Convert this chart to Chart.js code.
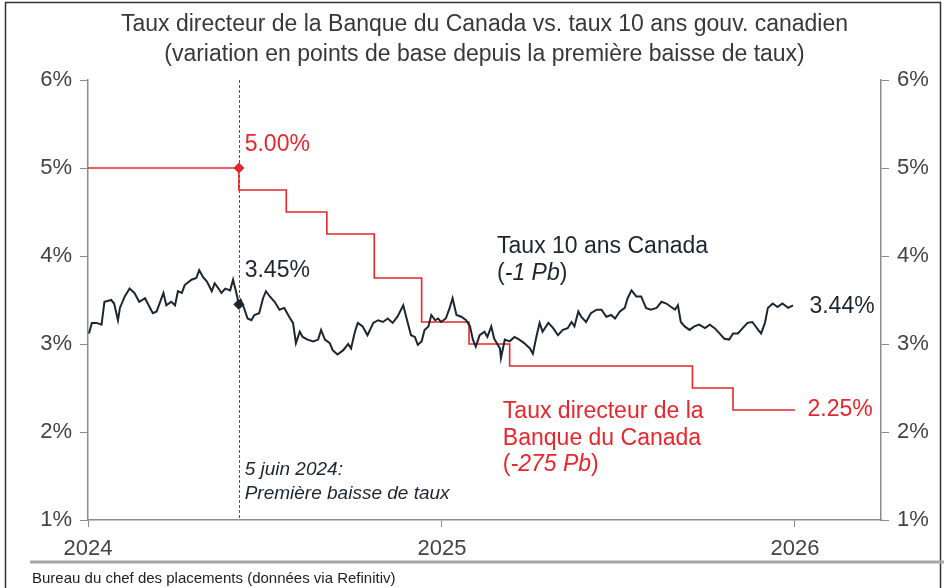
<!DOCTYPE html>
<html>
<head>
<meta charset="utf-8">
<script src="https://cdn.jsdelivr.net/npm/chart.js@4.4.1/dist/chart.umd.min.js"></script>
<style>
    html, body { margin: 0; padding: 0; background: #fff; }
    #wrap { width: 944px; height: 588px; position: relative; }
</style>
</head>
<body>
<div id="wrap"><canvas id="rateChart"></canvas></div>
<script>

// ---- data ----

var tickYears = [2024, 2025, 2026];

// Bank of Canada policy rate, value in force from each date
var policyDates = ['2024-01-01', '2024-06-05', '2024-07-24', '2024-09-04', '2024-10-23', '2024-12-11',
    '2025-01-29', '2025-03-12', '2025-09-17', '2025-10-29', '2026-01-01'];
var policyRates = [5.00, 4.75, 4.50, 4.25, 3.75, 3.25, 3.00, 2.75, 2.50, 2.25, 2.25];

// Canada 10 year government yield
var bondDates = [
    '2024-01-02', '2024-01-05', '2024-01-10', '2024-01-15', '2024-01-18', '2024-01-25', '2024-01-28', '2024-02-01',
    '2024-02-03', '2024-02-08', '2024-02-13', '2024-02-18', '2024-02-23', '2024-02-29', '2024-03-08', '2024-03-12',
    '2024-03-19', '2024-03-22', '2024-03-27', '2024-03-31', '2024-04-03', '2024-04-07', '2024-04-10', '2024-04-17',
    '2024-04-22', '2024-04-25', '2024-04-29', '2024-05-03', '2024-05-08', '2024-05-11', '2024-05-15', '2024-05-18',
    '2024-05-22', '2024-05-27', '2024-05-30', '2024-06-02', '2024-06-05', '2024-06-07', '2024-06-10', '2024-06-14',
    '2024-06-18', '2024-06-21', '2024-06-26', '2024-06-30', '2024-07-03', '2024-07-07', '2024-07-12', '2024-07-17',
    '2024-07-22', '2024-07-27', '2024-07-31', '2024-08-03', '2024-08-07', '2024-08-10', '2024-08-15', '2024-08-21',
    '2024-08-26', '2024-08-29', '2024-09-02', '2024-09-07', '2024-09-10', '2024-09-15', '2024-09-21', '2024-09-26',
    '2024-09-29', '2024-10-03', '2024-10-06', '2024-10-11', '2024-10-16', '2024-10-22', '2024-10-27', '2024-11-01',
    '2024-11-06', '2024-11-11', '2024-11-16', '2024-11-22', '2024-11-25', '2024-11-30', '2024-12-04', '2024-12-07',
    '2024-12-11', '2024-12-14', '2024-12-18', '2024-12-21', '2024-12-25', '2024-12-28', '2024-12-31',
    '2025-01-05', '2025-01-09', '2025-01-12', '2025-01-16', '2025-01-21', '2025-01-26', '2025-01-30', '2025-02-02',
    '2025-02-05', '2025-02-09', '2025-02-14', '2025-02-17', '2025-02-21', '2025-02-24', '2025-03-02', '2025-03-03',
    '2025-03-07', '2025-03-12', '2025-03-17', '2025-03-22', '2025-03-27', '2025-04-02', '2025-04-05', '2025-04-09',
    '2025-04-12', '2025-04-15', '2025-04-21', '2025-04-26', '2025-05-01', '2025-05-06', '2025-05-11', '2025-05-15',
    '2025-05-18', '2025-05-22', '2025-05-25', '2025-05-30', '2025-06-04', '2025-06-10', '2025-06-15', '2025-06-20',
    '2025-06-25', '2025-06-29', '2025-07-04', '2025-07-09', '2025-07-12', '2025-07-16', '2025-07-21', '2025-07-26',
    '2025-07-31', '2025-08-05', '2025-08-11', '2025-08-16', '2025-08-21', '2025-08-26', '2025-08-30', '2025-09-02',
    '2025-09-05', '2025-09-09', '2025-09-14', '2025-09-19', '2025-09-24', '2025-09-30', '2025-10-05', '2025-10-10',
    '2025-10-15', '2025-10-20', '2025-10-25', '2025-10-29', '2025-11-03', '2025-11-08', '2025-11-13', '2025-11-18',
    '2025-11-24', '2025-11-27', '2025-12-01', '2025-12-04', '2025-12-09', '2025-12-14', '2025-12-19', '2025-12-25',
    '2025-12-30'
];
var bondYields = [
    3.12, 3.24, 3.24, 3.22, 3.48, 3.50, 3.46, 3.27,
    3.41, 3.54, 3.63, 3.58, 3.48, 3.52, 3.35, 3.37,
    3.58, 3.44, 3.48, 3.44, 3.60, 3.58, 3.67, 3.73,
    3.75, 3.84, 3.76, 3.71, 3.60, 3.69, 3.63, 3.58,
    3.63, 3.61, 3.73, 3.60, 3.45, 3.50, 3.42, 3.29,
    3.27, 3.33, 3.35, 3.52, 3.60, 3.54, 3.48, 3.39,
    3.41, 3.31, 3.24, 3.01, 3.14, 3.08, 3.05, 3.03,
    3.05, 3.16, 3.05, 3.01, 2.93, 2.88, 2.93, 3.00,
    2.95, 3.14, 3.24, 3.20, 3.10, 3.24, 3.27, 3.25,
    3.29, 3.24, 3.31, 3.44, 3.31, 3.10, 3.08, 2.99,
    3.03, 3.16, 3.20, 3.33, 3.27, 3.29, 3.25,
    3.29, 3.41, 3.52, 3.33, 3.31, 3.27, 3.20, 3.05,
    2.97, 3.10, 3.14, 3.08, 3.20, 3.06, 2.95, 2.84,
    3.05, 3.03, 3.08, 3.05, 3.01, 2.95, 2.89, 3.10,
    3.24, 3.14, 3.24, 3.18, 3.10, 3.16, 3.18, 3.25,
    3.20, 3.37, 3.31, 3.25, 3.35, 3.39, 3.39, 3.31,
    3.33, 3.29, 3.37, 3.41, 3.52, 3.61, 3.54, 3.54,
    3.41, 3.39, 3.41, 3.48, 3.46, 3.42, 3.39, 3.44,
    3.25, 3.20, 3.16, 3.20, 3.22, 3.18, 3.22, 3.18,
    3.12, 3.06, 3.05, 3.12, 3.12, 3.18, 3.24, 3.25,
    3.16, 3.12, 3.24, 3.41, 3.46, 3.42, 3.46, 3.41,
    3.44
];

// first rate cut, marked on both series
var cutDate = '2024-06-05';
var cutPolicy = 5.00;
var cutBond = 3.45;

var chartTitle = ['Taux directeur de la Banque du Canada vs. taux 10 ans gouv. canadien',
    '(variation en points de base depuis la première baisse de taux)'];
var sourceText = 'Bureau du chef des placements (données via Refinitiv)';

// ---- helpers / styles ----

var RED = '#e8262d';
var DARK = '#1c2631';
var AXIS = '#8c8c8c';
var FONT = '"Liberation Sans", Arial, sans-serif';

var START = Date.UTC(2024, 0, 1);
function toDay(s) {
    var p = s.split('-');
    return (Date.UTC(+p[0], +p[1] - 1, +p[2]) - START) / 86400000;
}

function toPoints(dates, values) {
    return dates.map(function (d, i) { return { x: toDay(d), y: values[i] }; });
}

// text notes placed in data coordinates (date, value)
var notes = [
    { at: ['2024-06-11', 5.27], color: RED, size: 23, parts: [['5.00%', false]] },
    { at: ['2024-06-11', 3.83], color: DARK, size: 23, parts: [['3.45%', false]] },
    { at: ['2025-02-27', 4.11], color: DARK, size: 23, parts: [['Taux 10 ans Canada', false]] },
    { at: ['2025-02-27', 3.80], color: DARK, size: 23, parts: [['(', false], ['-1 Pb', true], [')', false]] },
    { at: ['2026-01-16', 3.42], color: DARK, size: 23, parts: [['3.44%', false]] },
    { at: ['2025-03-05', 2.23], color: RED, size: 23, parts: [['Taux directeur de la', false]] },
    { at: ['2025-03-05', 1.93], color: RED, size: 23, parts: [['Banque du Canada', false]] },
    { at: ['2025-03-05', 1.63], color: RED, size: 23, parts: [['(', false], ['-275 Pb', true], [')', false]] },
    { at: ['2026-01-14', 2.25], color: RED, size: 23, parts: [['2.25%', false]] },
    { at: ['2024-06-11', 1.57], color: DARK, size: 19, parts: [['5 juin 2024:', true]] },
    { at: ['2024-06-11', 1.30], color: DARK, size: 19, parts: [['Première baisse de taux', true]] }
];

var decorPlugin = {
    id: 'decor',
    beforeDatasetsDraw: function (chart) {
        var ctx = chart.ctx;
        var area = chart.chartArea;
        var x = chart.scales.x.getPixelForValue(toDay(cutDate));
        ctx.save();
        ctx.strokeStyle = '#555';
        ctx.lineWidth = 1;
        ctx.setLineDash([3, 2]);
        ctx.beginPath();
        ctx.moveTo(Math.round(x) + 0.5, area.top);
        ctx.lineTo(Math.round(x) + 0.5, area.bottom);
        ctx.stroke();
        ctx.restore();
    },
    afterDraw: function (chart) {
        var ctx = chart.ctx;
        var area = chart.chartArea;
        var xs = chart.scales.x;
        var ys = chart.scales.y;
        ctx.save();

        // outer frame
        ctx.strokeStyle = '#333';
        ctx.lineWidth = 1.5;
        ctx.beginPath();
        ctx.moveTo(5.5, chart.height);
        ctx.lineTo(5.5, 2.5);
        ctx.lineTo(940.5, 2.5);
        ctx.lineTo(940.5, chart.height);
        ctx.stroke();

        // title
        ctx.fillStyle = '#383838';
        ctx.font = '23px ' + FONT;
        ctx.textAlign = 'center';
        ctx.textBaseline = 'middle';
        var cx = (area.left + area.right) / 2;
        ctx.fillText(chartTitle[0], cx, 25);
        ctx.fillText(chartTitle[1], cx, 55);

        // source rule + text
        ctx.strokeStyle = '#a6a6a6';
        ctx.lineWidth = 3;
        ctx.beginPath();
        ctx.moveTo(30, 562);
        ctx.lineTo(chart.width, 562);
        ctx.stroke();
        ctx.fillStyle = '#222';
        ctx.font = '15px ' + FONT;
        ctx.textAlign = 'left';
        ctx.fillText(sourceText, 32, 579);

        // notes
        notes.forEach(function (n) {
            var px = xs.getPixelForValue(toDay(n.at[0]));
            var py = ys.getPixelForValue(n.at[1]);
            ctx.fillStyle = n.color;
            ctx.textAlign = 'left';
            ctx.textBaseline = 'middle';
            n.parts.forEach(function (p) {
                ctx.font = (p[1] ? 'italic ' : '') + n.size + 'px ' + FONT;
                ctx.fillText(p[0], px, py);
                px += ctx.measureText(p[0]).width;
            });
        });
        ctx.restore();
    }
};

var axisY = function (position, width) {
    return {
        type: 'linear',
        position: position,
        min: 1,
        max: 6,
        ticks: {
            stepSize: 1,
            color: '#444',
            padding: 8,
            font: { family: FONT, size: 22 },
            callback: function (v) { return v + '%'; }
        },
        grid: { drawOnChartArea: false, color: AXIS, tickLength: 8 },
        border: { color: AXIS, width: 1.5 },
        afterFit: function (scale) { scale.width = width; }
    };
};

var ctx = document.getElementById('rateChart').getContext('2d');
new Chart(ctx, {
    type: 'line',
    data: {
        datasets: [
            {
                label: 'Taux 10 ans Canada',
                data: toPoints(bondDates, bondYields),
                borderColor: DARK,
                borderWidth: 2,
                pointRadius: 0,
                tension: 0
            },
            {
                label: 'Taux directeur',
                data: toPoints(policyDates, policyRates),
                borderColor: RED,
                borderWidth: 1.6,
                pointRadius: 0,
                stepped: true
            },
            {
                label: 'cut policy',
                data: [{ x: toDay(cutDate), y: cutPolicy }],
                showLine: false,
                pointStyle: 'rectRot',
                pointRadius: 5,
                backgroundColor: RED,
                borderColor: RED
            },
            {
                label: 'cut bond',
                data: [{ x: toDay(cutDate), y: cutBond }],
                showLine: false,
                pointStyle: 'rectRot',
                pointRadius: 5,
                backgroundColor: DARK,
                borderColor: DARK
            }
        ]
    },
    options: {
        responsive: true,
        maintainAspectRatio: false,
        animation: false,
        layout: { padding: { top: 80, left: 0, right: 0, bottom: 0 } },
        plugins: {
            legend: { display: false },
            tooltip: { enabled: false },
            title: { display: false }
        },
        scales: {
            x: {
                type: 'linear',
                min: 0,
                max: toDay('2026-03-31'),
                afterBuildTicks: function (scale) {
                    scale.ticks = tickYears.map(function (y) { return { value: toDay(y + '-01-01') }; });
                },
                ticks: {
                    autoSkip: false,
                    maxRotation: 0,
                    color: '#444',
                    padding: 9,
                    font: { family: FONT, size: 22 },
                    callback: function (v) { return String(2024 + Math.floor(v / 365.25 + 0.01)); }
                },
                grid: { drawOnChartArea: false, color: AXIS, tickLength: 7 },
                border: { color: AXIS, width: 1.5 },
                afterFit: function (scale) { scale.height = 68; }
            },
            y: axisY('left', 88),
            y2: axisY('right', 63)
        }
    },
    plugins: [decorPlugin]
});
</script>
</body>
</html>
